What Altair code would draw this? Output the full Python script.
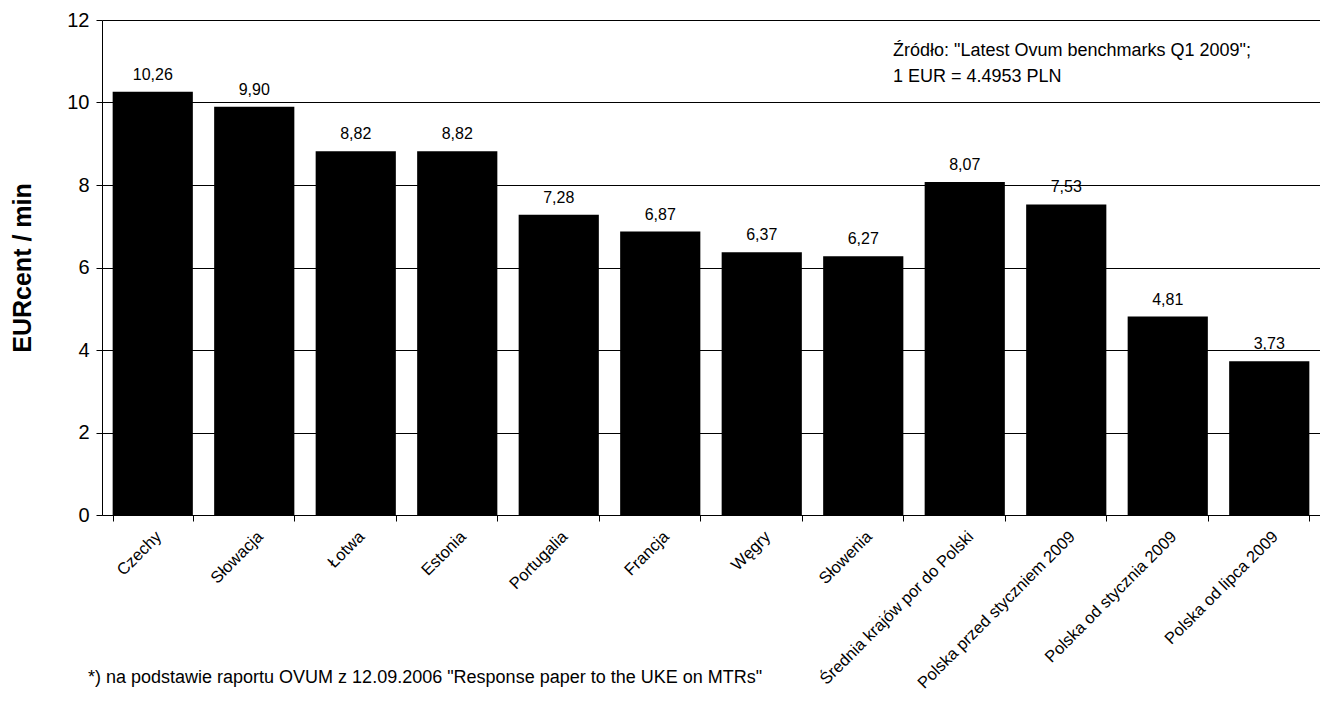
import altair as alt
import pandas as pd

categories = [
    "Czechy", "Słowacja", "Łotwa", "Estonia", "Portugalia", "Francja",
    "Węgry", "Słowenia", "Średnia krajów por do Polski",
    "Polska przed styczniem 2009", "Polska od stycznia 2009", "Polska od lipca 2009",
]
values = [10.26, 9.90, 8.82, 8.82, 7.28, 6.87, 6.37, 6.27, 8.07, 7.53, 4.81, 3.73]
y_ticks = [0, 2, 4, 6, 8, 10, 12]
y_title = "EURcent / min"
source_note = ['Źródło: "Latest Ovum benchmarks Q1 2009";', "1 EUR = 4.4953 PLN"]
footnote = '*) na podstawie raportu OVUM z 12.09.2006 "Response paper to the UKE on MTRs"'

FONT = "Liberation Sans"
W, H = 1218, 495

df = pd.DataFrame({
    "kraj": categories,
    "wartosc": values,
    "etykieta": [f"{v:.2f}".replace(".", ",") for v in values],
})

x = alt.X(
    "kraj:N", sort=categories, title=None,
    scale=alt.Scale(paddingInner=0.21, paddingOuter=0.105),
    axis=alt.Axis(
        labelAngle=-45, labelAlign="right", labelBaseline="top",
        labelFontSize=16.5, labelPadding=7, labelColor="black",
        tickBand="extent", tickSize=6, tickColor="black",
        domainColor="black", labelLimit=400, grid=False,
    ),
)
y = alt.Y(
    "wartosc:Q", title=y_title,
    scale=alt.Scale(domain=[0, 12], nice=False),
    axis=alt.Axis(
        values=y_ticks, labelFontSize=20, labelPadding=7, labelColor="black",
        tickSize=6, tickColor="black", domainColor="black",
        grid=True, gridColor="black", gridWidth=1, gridOpacity=1,
        titleFontSize=25, titleFontWeight="bold", titleColor="black",
        titleAngle=-90, titleX=-80, titleY=H / 2, titleAlign="center",
        titleBaseline="middle",
    ),
)

bars = alt.Chart(df).mark_bar(color="black").encode(x=x, y=y)

labels = alt.Chart(df).mark_text(
    baseline="bottom", dy=-9, fontSize=16, font=FONT, color="black"
).encode(x=alt.X("kraj:N", sort=categories), y="wartosc:Q", text="etykieta:N")

note = alt.Chart(pd.DataFrame({"n": [0]})).mark_text(
    text=source_note, align="left", baseline="alphabetic", fontSize=18,
    lineHeight=26, font=FONT, color="black",
).encode(x=alt.value(791), y=alt.value(36))

foot = alt.Chart(pd.DataFrame({"n": [0]})).mark_text(
    text=footnote, align="left", baseline="alphabetic", fontSize=18,
    font=FONT, color="black",
).encode(x=alt.value(-14), y=alt.value(663))

chart = alt.layer(bars, labels, note, foot).properties(
    width=W, height=H,
    autosize=alt.AutoSizeParams(type="none"),
    padding={"left": 94, "top": 12, "right": 0, "bottom": 180},
    background="white",
).configure_view(strokeWidth=0).configure_axis(
    labelFont=FONT, titleFont=FONT
).configure_text(font=FONT)

chart.save("out.html", embed_options={"renderer": "svg", "actions": False})
